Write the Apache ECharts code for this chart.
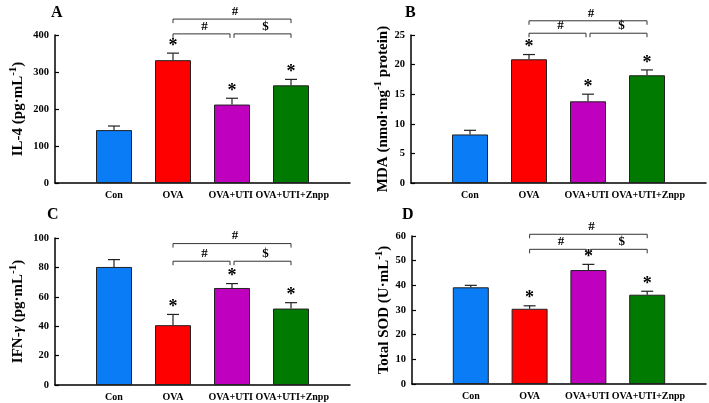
<!DOCTYPE html>
<html><head><meta charset="utf-8">
<script src="https://cdn.jsdelivr.net/npm/echarts@6/dist/echarts.min.js"></script>
<style>html,body{margin:0;padding:0;background:#fff}#c{width:709px;height:403px}</style>
</head><body><div id="c"></div>
<script>
const groups = ['Con', 'OVA', 'OVA+UTI', 'OVA+UTI+Znpp'];
const barColors = ['#0A7CF6', '#FF0000', '#BF00BF', '#007A00'];

const il4Mean = [143, 332, 212, 264];
const il4Err = [11, 19, 17, 16];
const mdaMean = [8.2, 20.9, 13.8, 18.2];
const mdaErr = [0.7, 0.8, 1.2, 0.9];
const ifnMean = [80.3, 40.7, 66, 52];
const ifnErr = [5, 7.3, 3, 4];
const sodMean = [39.2, 30.5, 46.2, 36.2];
const sodErr = [0.8, 1.2, 2.3, 1.4];
const starFlags = [0, 1, 1, 1];

const yMax = [400, 25, 100, 60];
const yStep = [100, 5, 20, 10];
const yNames = [
  '{m|IL-4 (pg·mL}{s|-1}{m|)}',
  '{m|MDA (nmol·mg}{s|-1}{m| protein)}',
  '{m|IFN-}{i|γ}{m| (pg·mL}{s|-1}{m|)}',
  '{m|Total SOD (U·mL}{s|-1}{m|)}'
];
const panelLetters = ['A', 'B', 'C', 'D'];
// bracket levels (data units): [upper, lower]
const bracketLevels = [[443, 403], [27.4, 25.3], [96.2, 84.2], [60.7, 54.6]];
const bracketPairs = [[2, 4, '#', 0], [2, 3, '#', 1], [3, 4, '$', 1]];

const means = [il4Mean, mdaMean, ifnMean, sodMean];
const errs = [il4Err, mdaErr, ifnErr, sodErr];

const grids = [
  {left: 55, top: 35, width: 295, height: 148},
  {left: 411, top: 35, width: 295, height: 148},
  {left: 55, top: 238, width: 295, height: 147},
  {left: 412, top: 236, width: 295, height: 148}
];
const nameGaps = [27, 15, 27, 16];
const letterPos = [[51, 5], [405, 5], [47, 207], [402, 207]];

const FONT = 'Liberation Serif';
const cats = [''].concat(groups, ['']);

const xAxis = [], yAxis = [], series = [], title = [];
for (let p = 0; p < 4; p++) {
  xAxis.push({
    gridIndex: p, type: 'category', data: cats, boundaryGap: false,
    axisLine: {lineStyle: {color: '#000', width: 1.5}},
    axisTick: {show: false},
    axisLabel: {color: '#000', fontFamily: FONT, fontWeight: 'bold', fontSize: 10, margin: 7, interval: 0,
      formatter: v => v === 'OVA+UTI' ? 'OVA+UTI ' : (v === 'OVA+UTI+Znpp' ? ' OVA+UTI+Znpp' : v)}
  });
  yAxis.push({
    gridIndex: p, type: 'value', min: 0, max: yMax[p], interval: yStep[p],
    splitLine: {show: false},
    axisLine: {show: true, lineStyle: {color: '#000', width: 1.5}},
    axisTick: {show: true, inside: true, length: 4, lineStyle: {color: '#000', width: 1.2}},
    axisLabel: {color: '#000', fontFamily: FONT, fontWeight: 'bold', fontSize: 10.5, margin: 6},
    name: yNames[p], nameLocation: 'middle', nameGap: nameGaps[p],
    nameTextStyle: {
      color: '#000',
      rich: {
        m: {fontFamily: FONT, fontWeight: 'bold', fontSize: 15, color: '#000', lineHeight: 20},
        i: {fontFamily: FONT, fontWeight: 'bold', fontStyle: 'italic', fontSize: 15, color: '#000', lineHeight: 20},
        s: {fontFamily: FONT, fontWeight: 'bold', fontSize: 11, color: '#000', verticalAlign: 'top', lineHeight: 20, padding: [0, 0, 6, 0]}
      }
    }
  });
  title.push({
    text: panelLetters[p], left: letterPos[p][0], top: letterPos[p][1],
    textStyle: {fontFamily: FONT, fontWeight: 'bold', fontSize: 16, color: '#000'}, padding: 0
  });
  const barData = ['-'].concat(means[p].map((v, i) => ({
    value: v, itemStyle: {color: barColors[i], borderColor: '#222', borderWidth: 1}
  })), ['-']);
  series.push({
    type: 'bar', xAxisIndex: p, yAxisIndex: p, data: barData, barWidth: 36, silent: true
  });
  const eData = means[p].map((v, i) => [i + 1, v, errs[p][i], starFlags[i]]);
  series.push({
    type: 'custom', xAxisIndex: p, yAxisIndex: p, data: eData, silent: true, z: 5,
    renderItem: function (params, api) {
      const x = api.value(0), m = api.value(1), e = api.value(2), s = api.value(3);
      const base = api.coord([x, m]);
      const top = api.coord([x, m + e]);
      const ch = [
        {type: 'line', shape: {x1: top[0], y1: base[1], x2: top[0], y2: top[1]}, style: {stroke: '#222', lineWidth: 1.2}},
        {type: 'line', shape: {x1: top[0] - 6, y1: top[1], x2: top[0] + 6, y2: top[1]}, style: {stroke: '#222', lineWidth: 1.2}}
      ];
      if (s) ch.push({type: 'text', style: {text: '*', x: top[0], y: top[1] + 2, align: 'center', verticalAlign: 'bottom',
        font: 'bold 18px "Liberation Serif"', fill: '#000'}});
      return {type: 'group', children: ch};
    }
  });
  const bData = bracketPairs.map(b => [b[0], bracketLevels[p][b[3]]]);
  series.push({
    type: 'custom', xAxisIndex: p, yAxisIndex: p, data: bData, silent: true, clip: false, z: 5,
    renderItem: function (params, api) {
      const b = bracketPairs[params.dataIndex];
      const lvl = bracketLevels[p][b[3]];
      const a = api.coord([b[0], lvl]);
      const c = api.coord([b[1], lvl]);
      let x1 = a[0], x2 = c[0];
      if (b[3] === 1) { if (b[0] === 3) x1 += 2; if (b[1] === 3) x2 -= 2; }
      const y = a[1];
      return {type: 'group', children: [
        {type: 'polyline', shape: {points: [[x1, y + 4], [x1, y], [x2, y], [x2, y + 4]]}, style: {stroke: '#333', lineWidth: 1, fill: null}},
        {type: 'text', style: {text: b[2], x: (x1 + x2) / 2 + 3, y: y - 1, align: 'center', verticalAlign: 'bottom',
          font: 'bold 13px "Liberation Serif"', fill: '#000'}}
      ]};
    }
  });
}

const chart = echarts.init(document.getElementById('c'));
chart.setOption({animation: false, grid: grids, xAxis, yAxis, series, title});
</script>
</body></html>
